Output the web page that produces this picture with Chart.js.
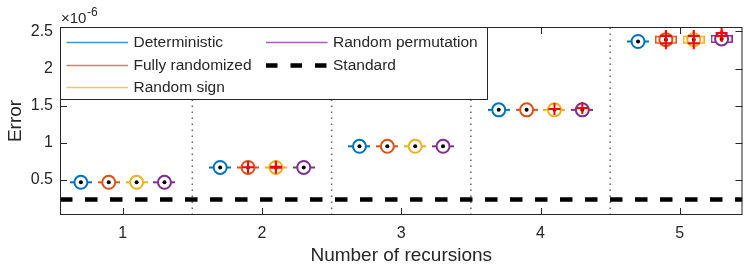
<!DOCTYPE html>
<html lang="en">
<head>
<meta charset="UTF-8" />
<title>Error vs number of recursions</title>
<script src="https://cdn.jsdelivr.net/npm/chart.js"></script>
<style>
  body { margin: 0; background: #fff; }
</style>
</head>
<body>
<canvas id="myChart" width="751" height="267"></canvas>
<script>
// values (units of 1e-6)
const recursions = [1, 2, 3, 4, 5];
const deterministic = [0.47, 0.67, 0.955, 1.445, 2.365];
const fullyRandomized = [0.47, 0.67, 0.955, 1.445, 2.39];
const randomSign = [0.47, 0.67, 0.955, 1.445, 2.39];
const randomPermutation = [0.47, 0.67, 0.955, 1.445, 2.40];

// red "+" outliers, one list per recursion count
const outDeterministic = [[], [], [], [], []];
const outFully = [[], [0.672], [], [], [2.44, 2.34]];
const outSign = [[], [0.665, 0.68], [], [1.455], [2.44, 2.34]];
const outPerm = [[], [], [], [1.47], [2.48, 2.44]];

// groups where the box is wide enough to be seen
const boxDeterministic = [false, false, false, false, false];
const boxFully = [false, false, false, false, true];
const boxSign = [false, false, false, false, true];
const boxPerm = [false, false, false, false, true];

const standardError = 0.24;
const xTicks = [1, 2, 3, 4, 5];
const yTicks = [0.5, 1, 1.5, 2, 2.5];
const separators = [1.5, 2.5, 3.5, 4.5];
const groupOffsets = [-0.3, -0.1, 0.1, 0.3];

const xMin = 0.55, xMax = 5.45, yMin = 0.03, yMax = 2.56;
const FONT = '"Liberation Sans", Arial, Helvetica, sans-serif';
const AXIS = '#262626';

const series = [
  { label: 'Deterministic', values: deterministic, outliers: outDeterministic, boxed: boxDeterministic, color: '#0072BD' },
  { label: 'Fully randomized', values: fullyRandomized, outliers: outFully, boxed: boxFully, color: '#D95319' },
  { label: 'Random sign', values: randomSign, outliers: outSign, boxed: boxSign, color: '#EDB120' },
  { label: 'Random permutation', values: randomPermutation, outliers: outPerm, boxed: boxPerm, color: '#7E2F8E' }
];

function whiskerImg(color, boxed) {
  const c = document.createElement('canvas');
  c.width = 22; c.height = 10;
  const g = c.getContext('2d');
  g.strokeStyle = color;
  if (boxed) {
    g.lineWidth = 1.5;
    g.strokeRect(0.75, 1.75, 20.5, 6.5);
  } else {
    g.lineWidth = 2;
    g.beginPath(); g.moveTo(0, 5); g.lineTo(22, 5); g.stroke();
  }
  return c;
}

const datasets = [];

separators.forEach(s => {
  datasets.push({
    data: [{ x: s, y: yMin }, { x: s, y: yMax }],
    showLine: true, pointRadius: 0, borderColor: '#666', borderWidth: 1.5,
    borderDash: [1.5, 4.5], order: 6
  });
});

datasets.push({
  data: [{ x: xMin, y: standardError }, { x: xMax, y: standardError }],
  showLine: true, pointRadius: 0, borderColor: '#000', borderWidth: 4.5,
  borderDash: [12.5, 12.5], order: 5
});

series.forEach((s, i) => {
  const pts = recursions.map((r, k) => ({ x: r + groupOffsets[i], y: s.values[k] }));
  const wl = whiskerImg(s.color, false), wb = whiskerImg(s.color, true);
  datasets.push({
    data: pts, pointStyle: s.boxed.map(b => b ? wb : wl), order: 4
  });
  datasets.push({
    data: pts, pointStyle: 'circle', pointRadius: 6.5, pointBorderWidth: 2,
    pointBorderColor: s.color, pointBackgroundColor: '#fff', order: 3
  });
  datasets.push({
    data: pts, pointStyle: 'circle', pointRadius: 2, pointBorderWidth: 0,
    pointBackgroundColor: '#000', order: 2
  });
  const outs = [];
  recursions.forEach((r, k) => s.outliers[k].forEach(v => outs.push({ x: r + groupOffsets[i], y: v })));
  datasets.push({
    data: outs, pointStyle: 'cross', pointRadius: 6, pointBorderWidth: 2,
    pointBorderColor: '#ff0000', order: 1
  });
});

const frame = {
  id: 'frame',
  afterDatasetsDraw(chart) {
    const { ctx, chartArea: a, scales: { x, y } } = chart;
    ctx.save();
    ctx.strokeStyle = AXIS;
    ctx.lineWidth = 1;
    ctx.beginPath();
    xTicks.forEach(v => {
      const px = Math.round(x.getPixelForValue(v)) + 0.5;
      ctx.moveTo(px, a.bottom); ctx.lineTo(px, a.bottom - 7);
      ctx.moveTo(px, a.top); ctx.lineTo(px, a.top + 7);
    });
    yTicks.forEach(v => {
      const py = Math.round(y.getPixelForValue(v)) + 0.5;
      ctx.moveTo(a.left, py); ctx.lineTo(a.left + 7, py);
      ctx.moveTo(a.right, py); ctx.lineTo(a.right - 7, py);
    });
    ctx.stroke();
    ctx.strokeRect(a.left + 0.5, a.top + 0.5, a.right - a.left - 1, a.bottom - a.top - 1);

    // legend box in the upper left corner
    const lx = Math.round(a.left), ly = Math.round(a.top);
    ctx.fillStyle = '#fff';
    ctx.fillRect(lx, ly, 428, 73);
    ctx.strokeStyle = AXIS; ctx.lineWidth = 1;
    ctx.strokeRect(lx + 0.5, ly + 0.5, 427, 72);
    ctx.font = '15.5px ' + FONT;
    ctx.textBaseline = 'middle';
    const rows = [15.5, 38.5, 60.5];
    const entries = [
      { col: 0, row: 0, s: series[0] }, { col: 0, row: 1, s: series[1] },
      { col: 0, row: 2, s: series[2] }, { col: 1, row: 0, s: series[3] }
    ];
    const cols = [6.5, 206];
    entries.forEach(e => {
      const yy = ly + rows[e.row];
      ctx.strokeStyle = e.s.color; ctx.lineWidth = 1.5; ctx.globalAlpha = 0.75;
      ctx.beginPath(); ctx.moveTo(lx + cols[e.col], yy); ctx.lineTo(lx + cols[e.col] + 61.5, yy); ctx.stroke();
      ctx.globalAlpha = 1;
      ctx.fillStyle = AXIS;
      ctx.fillText(e.s.label, lx + cols[e.col] + 67, yy);
    });
    const sy = ly + rows[1];
    ctx.strokeStyle = '#000'; ctx.lineWidth = 4.5; ctx.setLineDash([11.5, 13]);
    ctx.beginPath(); ctx.moveTo(lx + cols[1], sy); ctx.lineTo(lx + cols[1] + 62, sy); ctx.stroke();
    ctx.setLineDash([]);
    ctx.fillStyle = AXIS;
    ctx.fillText('Standard', lx + cols[1] + 67, sy);

    // exponent label
    ctx.textBaseline = 'alphabetic';
    ctx.font = '15px ' + FONT;
    ctx.fillText('\u00d710', a.left + 1, a.top - 4);
    const w = ctx.measureText('\u00d710').width;
    ctx.font = '12px ' + FONT;
    ctx.fillText('-6', a.left + 1 + w + 0.5, a.top - 11);
    ctx.restore();
  }
};

new Chart(document.getElementById('myChart'), {
  type: 'scatter',
  data: { datasets },
  options: {
    responsive: false,
    devicePixelRatio: 1,
    animation: false,
    events: [],
    layout: { padding: { top: 27, right: 2, left: 0, bottom: 0 } },
    plugins: { legend: { display: false }, tooltip: { enabled: false } },
    scales: {
      x: {
        type: 'linear', min: xMin, max: xMax,
        afterBuildTicks: s => { s.ticks = xTicks.map(v => ({ value: v })); },
        afterFit: s => { s.height = 52; },
        grid: { display: false, drawTicks: false },
        border: { display: false },
        ticks: { color: AXIS, font: { family: FONT, size: 16 }, padding: 9, maxRotation: 0 },
        title: { display: true, text: 'Number of recursions', color: AXIS,
                 font: { family: FONT, size: 19 }, padding: { top: 0, bottom: 0 } }
      },
      y: {
        type: 'linear', min: yMin, max: yMax,
        afterBuildTicks: s => { s.ticks = yTicks.map(v => ({ value: v })); },
        afterFit: s => { s.width = 60; },
        grid: { display: false, drawTicks: false },
        border: { display: false },
        ticks: { color: AXIS, font: { family: FONT, size: 16 }, padding: 7,
                 callback: v => String(v) },
        title: { display: true, text: 'Error', color: AXIS,
                 font: { family: FONT, size: 19 }, padding: { top: 4, bottom: 0 } }
      }
    }
  },
  plugins: [frame]
});
</script>
</body>
</html>
